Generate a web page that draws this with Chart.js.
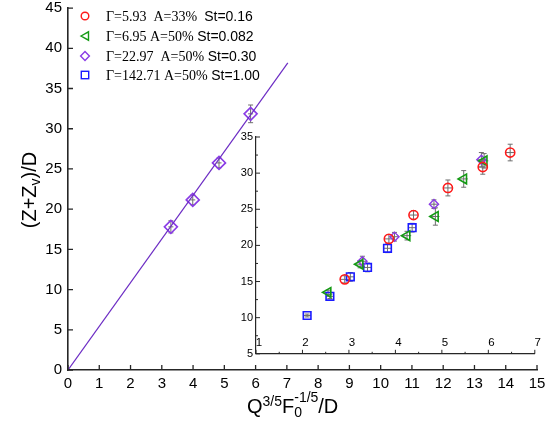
<!DOCTYPE html>
<html>
<head>
<meta charset="utf-8">
<script src="https://cdn.jsdelivr.net/npm/chart.js@4.4.1/dist/chart.umd.min.js"></script>
<style>
  html, body { margin: 0; padding: 0; background: #fff; }
  #wrap { position: relative; width: 559px; height: 421px; overflow: hidden; }
  #main { position: absolute; left: 0; top: 0; }
  #inset { position: absolute; left: 225px; top: 125px; }
  .legend { position: absolute; left: 79px; top: 6px; }
  .row { position: relative; height: 19.8px; line-height: 20px; white-space: nowrap; }
  .row svg { position: absolute; left: 0; top: 4px; }
  .row .txt { position: absolute; left: 27px; top: 0; font-size: 14px; color: #000; }
  .serif { font-family: "Liberation Serif", "Times New Roman", serif; }
  .sans { font-family: "Liberation Sans", Arial, sans-serif; }
  .ytitle { position: absolute; left: 30px; top: 190px; width: 140px; height: 24px; line-height: 24px;
            text-align: center; font: 20px "Liberation Sans", Arial, sans-serif;
            transform: translate(-50%, -50%) rotate(-90deg); }
  .ytitle sub { font-size: 14px; vertical-align: -4px; line-height: 0; }
  .xtitle { position: absolute; left: 247px; top: 395px; height: 26px; line-height: 26px; white-space: nowrap;
            font: 20px "Liberation Sans", Arial, sans-serif; }
  .xtitle .sup { font-size: 14px; vertical-align: 7px; line-height: 0; }
  .stack { display: inline-block; position: relative; width: 24px; height: 20px; vertical-align: -3px; }
  .stack span { position: absolute; left: 0; font-size: 14px; line-height: 14px; }
</style>
</head>
<body>
<div id="wrap">
  <canvas id="main" width="559" height="421"></canvas>
  <canvas id="inset" width="317" height="236"></canvas>
  <div class="legend" id="legend"></div>
  <div class="ytitle">(Z+Z<sub>v</sub>)/D</div>
  <div class="xtitle">Q<span class="sup">3/5</span>F<span class="stack"><span style="top:-6px">-1/5</span><span style="top:9px">0</span></span>/D</div>
</div>
<script>
// ---- data ----
// straight-line fit through the origin
const fitX = [0, 7.03];
const fitY = [0, 38.2];

// Γ=22.97 points on the main axes
const mainX = [3.29, 3.99, 4.83, 5.84];
const mainY = [17.8, 21.15, 25.75, 31.85];
const mainErr = [0.75, 0.6, 0.6, 1.1];

// inset: Γ=5.93 A=33% St=0.16
const redX = [2.91, 3.86, 4.39, 5.13, 5.88, 6.47];
const redY = [15.3, 20.9, 24.2, 27.95, 30.85, 32.85];
const redErr = [0.5, 0.6, 0.6, 1.1, 1.0, 1.15];

// inset: Γ=6.95 A=50% St=0.082
const greenX = [2.55, 3.24, 4.25, 4.86, 5.47, 5.91];
const greenY = [13.5, 17.4, 21.35, 24.0, 29.2, 31.7];
const greenErr = [0.3, 0.5, 0.6, 1.2, 1.15, 1.0];

// inset: Γ=22.97 A=50% St=0.30
const purpleX = [3.29, 3.98, 4.83, 5.85];
const purpleY = [17.8, 21.2, 25.7, 31.85];
const purpleErr = [0.7, 0.6, 0.6, 1.0];

// inset: Γ=142.71 A=50% St=1.00
const blueX = [2.10, 2.59, 3.03, 3.40, 3.83, 4.36];
const blueY = [10.3, 12.95, 15.65, 16.95, 19.6, 22.45];
const blueErr = [0.2, 0.3, 0.6, 0.6, 0.6, 0.6];

// tick values
const mainXTicks = [0, 1, 2, 3, 4, 5, 6, 7, 8, 9, 10, 11, 12, 13, 14, 15];
const mainYTicks = [0, 5, 10, 15, 20, 25, 30, 35, 40, 45];
const insetXTicks = [1, 2, 3, 4, 5, 6, 7];
const insetYTicks = [5, 10, 15, 20, 25, 30, 35];

// legend entries: serif part, sans part
const legendSerif = ['Γ=5.93&nbsp;&nbsp;A=33%&nbsp;&nbsp;', 'Γ=6.95 A=50% ', 'Γ=22.97&nbsp;&nbsp;A=50% ', 'Γ=142.71 A=50% '];
const legendSans = ['St=0.16', 'St=0.082', 'St=0.30', 'St=1.00'];

// ---- styles ----
const RED = '#ff1a1a', GREEN = '#149a14', PURPLE = '#8a3be6', BLUE = '#1a1aff', LINE = '#6c2cc4';
const ERR = '#6e6e6e';
const AXIS = '#262626';
const SANS = '"Liberation Sans", Arial, sans-serif';
Chart.defaults.font.family = SANS;
Chart.defaults.color = '#000';

const pts = (xs, ys) => xs.map((x, i) => ({ x: x, y: ys[i] }));

// vertical error bars with caps, plus a short horizontal stroke through each point
const errorBars = {
  id: 'errorBars',
  beforeDatasetsDraw(chart) {
    const ctx = chart.ctx;
    ctx.save();
    ctx.strokeStyle = ERR;
    ctx.lineWidth = 1;
    chart.data.datasets.forEach((ds, i) => {
      if (!ds.errY) return;
      const meta = chart.getDatasetMeta(i);
      const ys = chart.scales[meta.yAxisID];
      const xs = chart.scales[meta.xAxisID];
      meta.data.forEach((el, j) => {
        const v = ds.data[j];
        const x = el.x;
        const yTop = ys.getPixelForValue(v.y + ds.errY[j]);
        const yBot = ys.getPixelForValue(v.y - ds.errY[j]);
        const xl = xs.getPixelForValue(v.x - ds.errX);
        const xr = xs.getPixelForValue(v.x + ds.errX);
        ctx.beginPath();
        ctx.moveTo(x, yTop); ctx.lineTo(x, yBot);
        ctx.moveTo(x - 2.5, yTop); ctx.lineTo(x + 2.5, yTop);
        ctx.moveTo(x - 2.5, yBot); ctx.lineTo(x + 2.5, yBot);
        ctx.moveTo(xl, el.y); ctx.lineTo(xr, el.y);
        ctx.stroke();
      });
    });
    ctx.restore();
  }
};

// tick marks pointing into the plot area
const inwardTicks = {
  id: 'inwardTicks',
  afterDraw(chart, args, o) {
    const ctx = chart.ctx;
    const ca = chart.chartArea;
    const xs = chart.scales.x, ys = chart.scales.y;
    ctx.save();
    ctx.strokeStyle = AXIS;
    ctx.lineWidth = o.width;
    ctx.beginPath();
    const xv = xs.ticks.map(t => t.value);
    xv.forEach(v => { const p = xs.getPixelForValue(v); ctx.moveTo(p, ca.bottom); ctx.lineTo(p, ca.bottom - o.major); });
    if (o.minor) {
      for (let k = 0; k < xv.length - 1; k++) {
        const p = xs.getPixelForValue((xv[k] + xv[k + 1]) / 2);
        ctx.moveTo(p, ca.bottom); ctx.lineTo(p, ca.bottom - o.minor);
      }
    }
    const yv = ys.ticks.map(t => t.value);
    yv.forEach(v => { const p = ys.getPixelForValue(v); ctx.moveTo(ca.left, p); ctx.lineTo(ca.left + o.major, p); });
    if (o.minor) {
      for (let k = 0; k < yv.length - 1; k++) {
        const p = ys.getPixelForValue((yv[k] + yv[k + 1]) / 2);
        ctx.moveTo(ca.left, p); ctx.lineTo(ca.left + o.minor, p);
      }
    }
    ctx.stroke();
    ctx.restore();
  }
};

function axis(min, max, values, opts) {
  return Object.assign({
    type: 'linear',
    min: min, max: max,
    afterBuildTicks: s => { s.ticks = values.map(v => ({ value: v })); },
    grid: { display: true, drawOnChartArea: false, drawTicks: false },
    border: { display: true, color: AXIS, width: opts.bw }
  }, opts.extra);
}

// ---- main chart ----
new Chart(document.getElementById('main'), {
  type: 'scatter',
  data: {
    datasets: [
      {
        type: 'line', data: pts(fitX, fitY), borderColor: LINE, borderWidth: 1.2,
        pointRadius: 0, fill: false, tension: 0
      },
      {
        data: pts(mainX, mainY), errY: mainErr, errX: 0.08,
        pointStyle: 'rectRot', pointRadius: 6.5, borderColor: PURPLE, borderWidth: 1.6,
        backgroundColor: 'rgba(0,0,0,0)'
      }
    ]
  },
  options: {
    responsive: false, animation: false, devicePixelRatio: 1,
    layout: { padding: { top: 7, right: 22, left: 0, bottom: 0 } },
    plugins: { legend: { display: false }, tooltip: { enabled: false }, inwardTicks: { major: 5, minor: 0, width: 1.3 } },
    scales: {
      x: axis(0, 15, mainXTicks, { bw: 1.6, extra: {
        ticks: { font: { size: 15 }, padding: 5, maxRotation: 0, autoSkip: false },
        afterFit: s => { s.height = 51; s.paddingLeft = 0; s.paddingRight = 0; }
      } }),
      y: axis(0, 45, mainYTicks, { bw: 1.6, extra: {
        ticks: { font: { size: 15 }, padding: 6, autoSkip: false },
        afterFit: s => { s.width = 68; s.paddingTop = 0; s.paddingBottom = 0; }
      } })
    }
  },
  plugins: [errorBars, inwardTicks]
});

// ---- inset chart ----
new Chart(document.getElementById('inset'), {
  type: 'scatter',
  data: {
    datasets: [
      { data: pts(redX, redY), errY: redErr, errX: 0.09, pointStyle: 'circle', pointRadius: 4.6,
        borderColor: RED, borderWidth: 1.6, backgroundColor: 'rgba(0,0,0,0)' },
      { data: pts(greenX, greenY), errY: greenErr, errX: 0.09, pointStyle: 'triangle', rotation: -90, pointRadius: 5.6,
        borderColor: GREEN, borderWidth: 1.6, backgroundColor: 'rgba(0,0,0,0)' },
      { data: pts(purpleX, purpleY), errY: purpleErr, errX: 0.08, pointStyle: 'rectRot', pointRadius: 4.6,
        borderColor: PURPLE, borderWidth: 1.4, backgroundColor: 'rgba(0,0,0,0)' },
      { data: pts(blueX, blueY), errY: blueErr, errX: 0.08, pointStyle: 'rect', pointRadius: 5.4,
        borderColor: BLUE, borderWidth: 1.6, backgroundColor: 'rgba(0,0,0,0)' }
    ]
  },
  options: {
    responsive: false, animation: false, devicePixelRatio: 1,
    layout: { padding: { top: 12, right: 5, left: 0, bottom: 0 } },
    plugins: { legend: { display: false }, tooltip: { enabled: false }, inwardTicks: { major: 4, minor: 2, width: 1 } },
    scales: {
      x: axis(1, 7, insetXTicks, { bw: 1.2, extra: {
        // labels sit just above the axis line, inside the plot
        ticks: { font: { size: 11.5 }, mirror: true, padding: 4, labelOffset: 3, maxRotation: 0, autoSkip: false },
        afterFit: s => { s.height = 5; s.paddingLeft = 0; s.paddingRight = 0; }
      } }),
      y: axis(5, 35, insetYTicks, { bw: 1.2, extra: {
        ticks: { font: { size: 11 }, padding: 3, autoSkip: false },
        afterFit: s => { s.width = 31; s.paddingTop = 0; s.paddingBottom = 0; }
      } })
    }
  },
  plugins: [errorBars, inwardTicks]
});

// ---- legend ----
const markers = [
  `<circle cx="6" cy="6" r="3.8" fill="none" stroke="${RED}" stroke-width="1.4"/>`,
  `<polygon points="2,6 9.5,1.8 9.5,10.2" fill="none" stroke="${GREEN}" stroke-width="1.4"/>`,
  `<polygon points="6,1.6 10.4,6 6,10.4 1.6,6" fill="none" stroke="${PURPLE}" stroke-width="1.4"/>`,
  `<rect x="2.3" y="2.3" width="7.4" height="7.4" fill="none" stroke="${BLUE}" stroke-width="1.4"/>`
];
const leg = document.getElementById('legend');
legendSerif.forEach((s, i) => {
  const row = document.createElement('div');
  row.className = 'row';
  row.innerHTML = `<svg width="12" height="12" viewBox="0 0 12 12">${markers[i]}</svg>` +
    `<span class="txt"><span class="serif">${s}</span><span class="sans">${legendSans[i]}</span></span>`;
  leg.appendChild(row);
});
</script>
</body>
</html>
